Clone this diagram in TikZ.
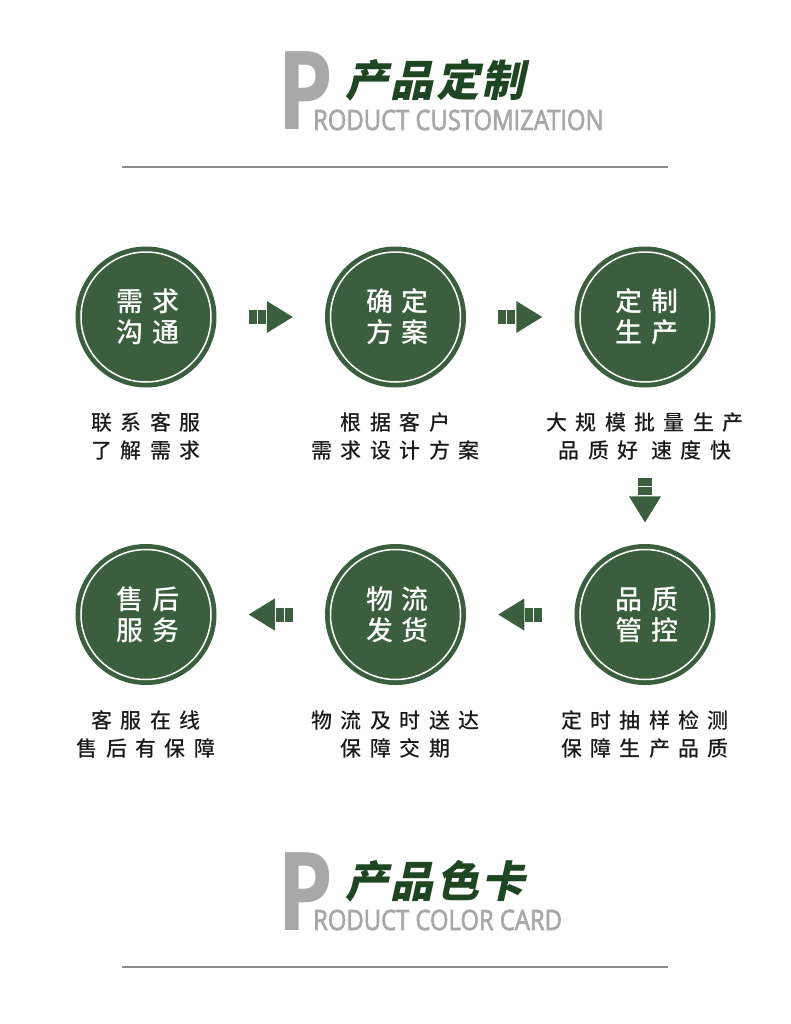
\documentclass[tikz,border=0pt]{standalone}
\usepackage{graphicx}
\usepackage{fontspec}
\usepackage{tikz}
\usetikzlibrary{positioning,calc}
\setmainfont{Noto Sans CJK SC}
\newfontfamily\zhtitle[FakeSlant=0.22,LetterSpace=6]{Noto Sans CJK SC Black}
\newfontfamily\zhdisc[LetterSpace=30]{Noto Sans CJK SC Medium}
\newfontfamily\zhcapt[LetterSpace=40]{Noto Sans CJK SC Medium}
\newfontfamily\enhead[FakeBold=2.5]{Open Sans}
\newfontfamily\enbig{Open Sans}
\definecolor{pcGreen}{HTML}{3B5F3E}
\definecolor{pcTitle}{HTML}{1F4622}
\definecolor{pcGray}{HTML}{A8A8A8}
\definecolor{pcRule}{HTML}{8C8C8C}
\definecolor{pcInk}{HTML}{1A1A1A}
\tikzset{
  stepdisc/.style={circle,minimum size=130pt,inner sep=0pt,
    fill=pcGreen,draw=white,line width=1.5pt,
    preaction={draw=pcGreen,line width=11pt},
    align=center,text=white,
    font=\zhdisc\fontsize{27pt}{31pt}\selectfont},
  capt/.style={align=center,inner sep=0pt,text=pcInk,
    font=\zhcapt\fontsize{21pt}{28pt}\selectfont},
  bigP/.style={anchor=base west,inner sep=0pt,text=pcGray,
    font=\enbig\bfseries\fontsize{109pt}{109pt}\selectfont},
  headzh/.style={anchor=base west,inner sep=0pt,text=pcTitle,
    font=\zhtitle\fontsize{43pt}{43pt}\selectfont},
  headen/.style={anchor=base west,inner sep=0pt,text=pcGray,
    font=\enhead\fontsize{28pt}{28pt}\selectfont},
  rule/.style={draw=pcRule,line width=2.2pt},
  flowarrow/.pic={
    \fill[pcGreen] (-22,-7) rectangle (-14,7);
    \fill[pcGreen] (-13,-7) rectangle (-5,7);
    \fill[pcGreen] (-4,-16) -- (22,0) -- (-4,16) -- cycle;
  },
}
% letter spacing trails each glyph, so start each line with half the gap
\newcommand\dl[1]{\hspace*{4pt}#1}

\begin{document}
\begin{tikzpicture}[x=1pt,y=-1pt]
  \fill[white] (0,0) rectangle (790,1024);
  \useasboundingbox (0,0) rectangle (790,1024);

  % headers
  \foreach \dy/\zh/\en in {0/产品定制/RODUCT CUSTOMIZATION,
                            800/产品色卡/RODUCT COLOR CARD} {
    \node[bigP] (hp\dy) at (277,130+\dy) {\scalebox{0.82}[1]{P}};
    \node[headzh] (hz\dy) at (345,97+\dy) {\zh};
    \node[headen] (he\dy) at (313,130+\dy) {\scalebox{0.85}[1]{\en}};
    \draw[rule] (122,167+\dy) -- (668,167+\dy);
  }

  % steps
  \node[stepdisc] (need) at (146,317) {\dl{需求}\\\dl{沟通}};
  \node[stepdisc,right=118pt of need] (plan) {\dl{确定}\\\dl{方案}};
  \node[stepdisc,right=118pt of plan] (make) {\dl{定制}\\\dl{生产}};
  \node[stepdisc,below=166pt of make] (check) {\dl{品质}\\\dl{管控}};
  \node[stepdisc,left=118pt of check] (ship) {\dl{物流}\\\dl{发货}};
  \node[stepdisc,left=118pt of ship] (after) {\dl{售后}\\\dl{服务}};

  \node[capt,below=30pt of need] (needtxt) {联系客服\\了解需求};
  \node[capt,below=30pt of plan] (plantxt) {根据客户\\需求设计方案};
  \node[capt,below=30pt of make] (maketxt) {大规模批量生产\\品质好 速度快};
  \node[capt,below=30pt of check] (checktxt) {定时抽样检测\\保障生产品质};
  \node[capt,below=30pt of ship] (shiptxt) {物流及时送达\\保障交期};
  \node[capt,below=30pt of after] (aftertxt) {客服在线\\售后有保障};

  % arrows
  \pic at ($(need)!0.5!(plan)$) {flowarrow};
  \pic at ($(plan)!0.5!(make)$) {flowarrow};
  \pic[rotate=-90] at ($(maketxt.south)!0.45!(check.north)$) {flowarrow};
  \pic[rotate=180] at ($(check)!0.5!(ship)$) {flowarrow};
  \pic[rotate=180] at ($(ship)!0.5!(after)$) {flowarrow};
\end{tikzpicture}
\end{document}
